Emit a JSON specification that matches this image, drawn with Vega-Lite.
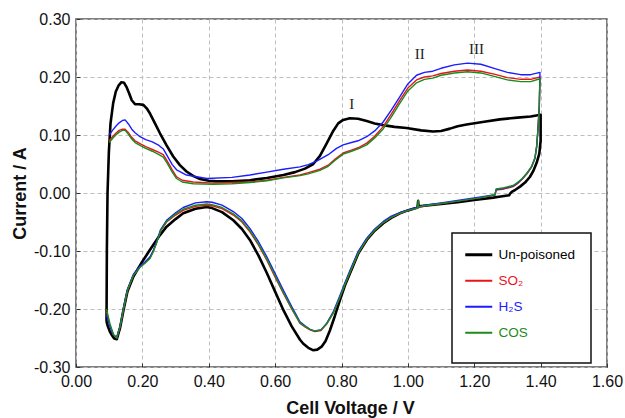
{
"$schema": "https://vega.github.io/schema/vega-lite/v6.json",
"autosize": "none",
"width": 531,
"height": 348,
"padding": {"left": 76, "top": 19, "right": 18, "bottom": 51},
"background": "white",
"datasets": {
"cv": [
{"s":"Un-poisoned","k":0,"v":0.092,"c":-0.222},{"s":"Un-poisoned","k":1,"v":0.093,"c":-0.1},{"s":"Un-poisoned","k":2,"v":0.095,"c":0.0},{"s":"Un-poisoned","k":3,"v":0.099,"c":0.07},{"s":"Un-poisoned","k":4,"v":0.104,"c":0.12},{"s":"Un-poisoned","k":5,"v":0.112,"c":0.155},{"s":"Un-poisoned","k":6,"v":0.12,"c":0.175},{"s":"Un-poisoned","k":7,"v":0.128,"c":0.185},{"s":"Un-poisoned","k":8,"v":0.137,"c":0.191},{"s":"Un-poisoned","k":9,"v":0.145,"c":0.19},
{"s":"Un-poisoned","k":10,"v":0.152,"c":0.183},{"s":"Un-poisoned","k":11,"v":0.16,"c":0.172},{"s":"Un-poisoned","k":12,"v":0.168,"c":0.16},{"s":"Un-poisoned","k":13,"v":0.178,"c":0.153},{"s":"Un-poisoned","k":14,"v":0.19,"c":0.153},{"s":"Un-poisoned","k":15,"v":0.203,"c":0.152},{"s":"Un-poisoned","k":16,"v":0.213,"c":0.146},{"s":"Un-poisoned","k":17,"v":0.223,"c":0.137},{"s":"Un-poisoned","k":18,"v":0.238,"c":0.12},{"s":"Un-poisoned","k":19,"v":0.253,"c":0.103},
{"s":"Un-poisoned","k":20,"v":0.273,"c":0.082},{"s":"Un-poisoned","k":21,"v":0.293,"c":0.063},{"s":"Un-poisoned","k":22,"v":0.313,"c":0.048},{"s":"Un-poisoned","k":23,"v":0.333,"c":0.037},{"s":"Un-poisoned","k":24,"v":0.354,"c":0.029},{"s":"Un-poisoned","k":25,"v":0.374,"c":0.024},{"s":"Un-poisoned","k":26,"v":0.4,"c":0.021},{"s":"Un-poisoned","k":27,"v":0.424,"c":0.02},{"s":"Un-poisoned","k":28,"v":0.47,"c":0.02},{"s":"Un-poisoned","k":29,"v":0.524,"c":0.022},
{"s":"Un-poisoned","k":30,"v":0.575,"c":0.026},{"s":"Un-poisoned","k":31,"v":0.625,"c":0.031},{"s":"Un-poisoned","k":32,"v":0.66,"c":0.036},{"s":"Un-poisoned","k":33,"v":0.69,"c":0.042},{"s":"Un-poisoned","k":34,"v":0.715,"c":0.05},{"s":"Un-poisoned","k":35,"v":0.735,"c":0.064},{"s":"Un-poisoned","k":36,"v":0.755,"c":0.085},{"s":"Un-poisoned","k":37,"v":0.775,"c":0.107},{"s":"Un-poisoned","k":38,"v":0.79,"c":0.12},{"s":"Un-poisoned","k":39,"v":0.805,"c":0.126},
{"s":"Un-poisoned","k":40,"v":0.825,"c":0.129},{"s":"Un-poisoned","k":41,"v":0.85,"c":0.128},{"s":"Un-poisoned","k":42,"v":0.876,"c":0.124},{"s":"Un-poisoned","k":43,"v":0.9,"c":0.12},{"s":"Un-poisoned","k":44,"v":0.925,"c":0.117},{"s":"Un-poisoned","k":45,"v":0.96,"c":0.114},{"s":"Un-poisoned","k":46,"v":0.996,"c":0.112},{"s":"Un-poisoned","k":47,"v":1.04,"c":0.108},{"s":"Un-poisoned","k":48,"v":1.076,"c":0.106},{"s":"Un-poisoned","k":49,"v":1.1,"c":0.107},
{"s":"Un-poisoned","k":50,"v":1.127,"c":0.111},{"s":"Un-poisoned","k":51,"v":1.15,"c":0.115},{"s":"Un-poisoned","k":52,"v":1.177,"c":0.118},{"s":"Un-poisoned","k":53,"v":1.23,"c":0.123},{"s":"Un-poisoned","k":54,"v":1.277,"c":0.127},{"s":"Un-poisoned","k":55,"v":1.33,"c":0.13},{"s":"Un-poisoned","k":56,"v":1.37,"c":0.132},{"s":"Un-poisoned","k":57,"v":1.4,"c":0.135},{"s":"Un-poisoned","k":58,"v":1.4,"c":0.09},{"s":"Un-poisoned","k":59,"v":1.396,"c":0.068},
{"s":"Un-poisoned","k":60,"v":1.388,"c":0.052},{"s":"Un-poisoned","k":61,"v":1.378,"c":0.038},{"s":"Un-poisoned","k":62,"v":1.368,"c":0.028},{"s":"Un-poisoned","k":63,"v":1.353,"c":0.018},{"s":"Un-poisoned","k":64,"v":1.338,"c":0.011},{"s":"Un-poisoned","k":65,"v":1.325,"c":0.006},{"s":"Un-poisoned","k":66,"v":1.313,"c":0.002},{"s":"Un-poisoned","k":67,"v":1.308,"c":-0.001},{"s":"Un-poisoned","k":68,"v":1.305,"c":-0.004},{"s":"Un-poisoned","k":69,"v":1.28,"c":-0.006},
{"s":"Un-poisoned","k":70,"v":1.257,"c":-0.008},{"s":"Un-poisoned","k":71,"v":1.2,"c":-0.012},{"s":"Un-poisoned","k":72,"v":1.15,"c":-0.016},{"s":"Un-poisoned","k":73,"v":1.1,"c":-0.019},{"s":"Un-poisoned","k":74,"v":1.05,"c":-0.022},{"s":"Un-poisoned","k":75,"v":1.032,"c":-0.023},{"s":"Un-poisoned","k":76,"v":1.031,"c":-0.014},{"s":"Un-poisoned","k":77,"v":1.029,"c":-0.025},{"s":"Un-poisoned","k":78,"v":1.0,"c":-0.03},{"s":"Un-poisoned","k":79,"v":0.976,"c":-0.035},
{"s":"Un-poisoned","k":80,"v":0.95,"c":-0.043},{"s":"Un-poisoned","k":81,"v":0.926,"c":-0.052},{"s":"Un-poisoned","k":82,"v":0.9,"c":-0.065},{"s":"Un-poisoned","k":83,"v":0.876,"c":-0.081},{"s":"Un-poisoned","k":84,"v":0.85,"c":-0.105},{"s":"Un-poisoned","k":85,"v":0.826,"c":-0.138},{"s":"Un-poisoned","k":86,"v":0.81,"c":-0.16},{"s":"Un-poisoned","k":87,"v":0.795,"c":-0.185},{"s":"Un-poisoned","k":88,"v":0.78,"c":-0.212},{"s":"Un-poisoned","k":89,"v":0.765,"c":-0.237},
{"s":"Un-poisoned","k":90,"v":0.752,"c":-0.255},{"s":"Un-poisoned","k":91,"v":0.74,"c":-0.265},{"s":"Un-poisoned","k":92,"v":0.727,"c":-0.27},{"s":"Un-poisoned","k":93,"v":0.714,"c":-0.271},{"s":"Un-poisoned","k":94,"v":0.7,"c":-0.267},{"s":"Un-poisoned","k":95,"v":0.685,"c":-0.26},{"s":"Un-poisoned","k":96,"v":0.675,"c":-0.253},{"s":"Un-poisoned","k":97,"v":0.65,"c":-0.23},{"s":"Un-poisoned","k":98,"v":0.625,"c":-0.202},{"s":"Un-poisoned","k":99,"v":0.6,"c":-0.17},
{"s":"Un-poisoned","k":100,"v":0.575,"c":-0.138},{"s":"Un-poisoned","k":101,"v":0.55,"c":-0.108},{"s":"Un-poisoned","k":102,"v":0.524,"c":-0.081},{"s":"Un-poisoned","k":103,"v":0.5,"c":-0.062},{"s":"Un-poisoned","k":104,"v":0.474,"c":-0.047},{"s":"Un-poisoned","k":105,"v":0.44,"c":-0.033},{"s":"Un-poisoned","k":106,"v":0.41,"c":-0.026},{"s":"Un-poisoned","k":107,"v":0.394,"c":-0.024},{"s":"Un-poisoned","k":108,"v":0.36,"c":-0.027},{"s":"Un-poisoned","k":109,"v":0.323,"c":-0.035},
{"s":"Un-poisoned","k":110,"v":0.3,"c":-0.045},{"s":"Un-poisoned","k":111,"v":0.273,"c":-0.058},{"s":"Un-poisoned","k":112,"v":0.25,"c":-0.075},{"s":"Un-poisoned","k":113,"v":0.223,"c":-0.098},{"s":"Un-poisoned","k":114,"v":0.2,"c":-0.118},{"s":"Un-poisoned","k":115,"v":0.173,"c":-0.144},{"s":"Un-poisoned","k":116,"v":0.155,"c":-0.17},{"s":"Un-poisoned","k":117,"v":0.143,"c":-0.202},{"s":"Un-poisoned","k":118,"v":0.133,"c":-0.232},{"s":"Un-poisoned","k":119,"v":0.123,"c":-0.252},
{"s":"Un-poisoned","k":120,"v":0.115,"c":-0.251},{"s":"Un-poisoned","k":121,"v":0.108,"c":-0.245},{"s":"Un-poisoned","k":122,"v":0.102,"c":-0.239},{"s":"Un-poisoned","k":123,"v":0.096,"c":-0.23},{"s":"Un-poisoned","k":124,"v":0.092,"c":-0.222},

{"s":"SO₂","k":0,"v":0.1,"c":0.09},{"s":"SO₂","k":1,"v":0.11,"c":0.097},{"s":"SO₂","k":2,"v":0.12,"c":0.103},{"s":"SO₂","k":3,"v":0.13,"c":0.108},{"s":"SO₂","k":4,"v":0.14,"c":0.11},{"s":"SO₂","k":5,"v":0.148,"c":0.11},{"s":"SO₂","k":6,"v":0.158,"c":0.104},{"s":"SO₂","k":7,"v":0.168,"c":0.096},{"s":"SO₂","k":8,"v":0.178,"c":0.09},{"s":"SO₂","k":9,"v":0.193,"c":0.085},
{"s":"SO₂","k":10,"v":0.21,"c":0.08},{"s":"SO₂","k":11,"v":0.23,"c":0.075},{"s":"SO₂","k":12,"v":0.25,"c":0.07},{"s":"SO₂","k":13,"v":0.263,"c":0.066},{"s":"SO₂","k":14,"v":0.275,"c":0.055},{"s":"SO₂","k":15,"v":0.29,"c":0.04},{"s":"SO₂","k":16,"v":0.303,"c":0.028},{"s":"SO₂","k":17,"v":0.32,"c":0.022},{"s":"SO₂","k":18,"v":0.353,"c":0.019},{"s":"SO₂","k":19,"v":0.414,"c":0.017},
{"s":"SO₂","k":20,"v":0.47,"c":0.018},{"s":"SO₂","k":21,"v":0.524,"c":0.019},{"s":"SO₂","k":22,"v":0.575,"c":0.022},{"s":"SO₂","k":23,"v":0.625,"c":0.027},{"s":"SO₂","k":24,"v":0.675,"c":0.031},{"s":"SO₂","k":25,"v":0.7,"c":0.035},{"s":"SO₂","k":26,"v":0.735,"c":0.041},{"s":"SO₂","k":27,"v":0.76,"c":0.048},{"s":"SO₂","k":28,"v":0.78,"c":0.058},{"s":"SO₂","k":29,"v":0.805,"c":0.069},
{"s":"SO₂","k":30,"v":0.83,"c":0.074},{"s":"SO₂","k":31,"v":0.85,"c":0.078},{"s":"SO₂","k":32,"v":0.876,"c":0.086},{"s":"SO₂","k":33,"v":0.9,"c":0.098},{"s":"SO₂","k":34,"v":0.925,"c":0.114},{"s":"SO₂","k":35,"v":0.95,"c":0.136},{"s":"SO₂","k":36,"v":0.976,"c":0.16},{"s":"SO₂","k":37,"v":1.0,"c":0.181},{"s":"SO₂","k":38,"v":1.026,"c":0.195},{"s":"SO₂","k":39,"v":1.05,"c":0.2},
{"s":"SO₂","k":40,"v":1.075,"c":0.202},{"s":"SO₂","k":41,"v":1.1,"c":0.206},{"s":"SO₂","k":42,"v":1.14,"c":0.21},{"s":"SO₂","k":43,"v":1.18,"c":0.212},{"s":"SO₂","k":44,"v":1.22,"c":0.21},{"s":"SO₂","k":45,"v":1.26,"c":0.205},{"s":"SO₂","k":46,"v":1.3,"c":0.199},{"s":"SO₂","k":47,"v":1.34,"c":0.196},{"s":"SO₂","k":48,"v":1.37,"c":0.196},{"s":"SO₂","k":49,"v":1.398,"c":0.2},
{"s":"SO₂","k":50,"v":1.396,"c":0.15},{"s":"SO₂","k":51,"v":1.392,"c":0.11},{"s":"SO₂","k":52,"v":1.388,"c":0.08},{"s":"SO₂","k":53,"v":1.383,"c":0.06},{"s":"SO₂","k":54,"v":1.373,"c":0.045},{"s":"SO₂","k":55,"v":1.36,"c":0.034},{"s":"SO₂","k":56,"v":1.345,"c":0.024},{"s":"SO₂","k":57,"v":1.33,"c":0.016},{"s":"SO₂","k":58,"v":1.317,"c":0.011},{"s":"SO₂","k":59,"v":1.29,"c":0.007},
{"s":"SO₂","k":60,"v":1.266,"c":0.005},{"s":"SO₂","k":61,"v":1.262,"c":-0.004},{"s":"SO₂","k":62,"v":1.22,"c":-0.008},{"s":"SO₂","k":63,"v":1.15,"c":-0.014},{"s":"SO₂","k":64,"v":1.1,"c":-0.018},{"s":"SO₂","k":65,"v":1.05,"c":-0.022},{"s":"SO₂","k":66,"v":1.026,"c":-0.026},{"s":"SO₂","k":67,"v":1.0,"c":-0.03},{"s":"SO₂","k":68,"v":0.976,"c":-0.035},{"s":"SO₂","k":69,"v":0.95,"c":-0.042},
{"s":"SO₂","k":70,"v":0.926,"c":-0.051},{"s":"SO₂","k":71,"v":0.9,"c":-0.064},{"s":"SO₂","k":72,"v":0.876,"c":-0.08},{"s":"SO₂","k":73,"v":0.85,"c":-0.104},{"s":"SO₂","k":74,"v":0.826,"c":-0.136},{"s":"SO₂","k":75,"v":0.81,"c":-0.158},{"s":"SO₂","k":76,"v":0.795,"c":-0.18},{"s":"SO₂","k":77,"v":0.775,"c":-0.207},{"s":"SO₂","k":78,"v":0.755,"c":-0.226},{"s":"SO₂","k":79,"v":0.738,"c":-0.237},
{"s":"SO₂","k":80,"v":0.72,"c":-0.239},{"s":"SO₂","k":81,"v":0.705,"c":-0.236},{"s":"SO₂","k":82,"v":0.69,"c":-0.231},{"s":"SO₂","k":83,"v":0.675,"c":-0.225},{"s":"SO₂","k":84,"v":0.65,"c":-0.2},{"s":"SO₂","k":85,"v":0.625,"c":-0.173},{"s":"SO₂","k":86,"v":0.6,"c":-0.145},{"s":"SO₂","k":87,"v":0.575,"c":-0.116},{"s":"SO₂","k":88,"v":0.55,"c":-0.09},{"s":"SO₂","k":89,"v":0.524,"c":-0.067},
{"s":"SO₂","k":90,"v":0.5,"c":-0.05},{"s":"SO₂","k":91,"v":0.474,"c":-0.038},{"s":"SO₂","k":92,"v":0.44,"c":-0.027},{"s":"SO₂","k":93,"v":0.41,"c":-0.022},{"s":"SO₂","k":94,"v":0.394,"c":-0.021},{"s":"SO₂","k":95,"v":0.36,"c":-0.023},{"s":"SO₂","k":96,"v":0.323,"c":-0.03},{"s":"SO₂","k":97,"v":0.3,"c":-0.038},{"s":"SO₂","k":98,"v":0.273,"c":-0.05},{"s":"SO₂","k":99,"v":0.255,"c":-0.065},
{"s":"SO₂","k":100,"v":0.243,"c":-0.085},{"s":"SO₂","k":101,"v":0.233,"c":-0.1},{"s":"SO₂","k":102,"v":0.223,"c":-0.112},{"s":"SO₂","k":103,"v":0.208,"c":-0.12},{"s":"SO₂","k":104,"v":0.193,"c":-0.127},{"s":"SO₂","k":105,"v":0.173,"c":-0.142},{"s":"SO₂","k":106,"v":0.155,"c":-0.168},{"s":"SO₂","k":107,"v":0.143,"c":-0.2},{"s":"SO₂","k":108,"v":0.133,"c":-0.23},{"s":"SO₂","k":109,"v":0.123,"c":-0.25},
{"s":"SO₂","k":110,"v":0.113,"c":-0.245},{"s":"SO₂","k":111,"v":0.102,"c":-0.228},{"s":"SO₂","k":112,"v":0.092,"c":-0.205},

{"s":"H₂S","k":0,"v":0.1,"c":0.1},{"s":"H₂S","k":1,"v":0.11,"c":0.108},{"s":"H₂S","k":2,"v":0.12,"c":0.115},{"s":"H₂S","k":3,"v":0.13,"c":0.121},{"s":"H₂S","k":4,"v":0.14,"c":0.125},{"s":"H₂S","k":5,"v":0.148,"c":0.126},{"s":"H₂S","k":6,"v":0.158,"c":0.119},{"s":"H₂S","k":7,"v":0.168,"c":0.11},{"s":"H₂S","k":8,"v":0.178,"c":0.104},{"s":"H₂S","k":9,"v":0.193,"c":0.097},
{"s":"H₂S","k":10,"v":0.21,"c":0.092},{"s":"H₂S","k":11,"v":0.23,"c":0.088},{"s":"H₂S","k":12,"v":0.25,"c":0.082},{"s":"H₂S","k":13,"v":0.263,"c":0.076},{"s":"H₂S","k":14,"v":0.275,"c":0.064},{"s":"H₂S","k":15,"v":0.29,"c":0.049},{"s":"H₂S","k":16,"v":0.303,"c":0.04},{"s":"H₂S","k":17,"v":0.333,"c":0.031},{"s":"H₂S","k":18,"v":0.394,"c":0.025},{"s":"H₂S","k":19,"v":0.47,"c":0.027},
{"s":"H₂S","k":20,"v":0.524,"c":0.031},{"s":"H₂S","k":21,"v":0.575,"c":0.036},{"s":"H₂S","k":22,"v":0.625,"c":0.041},{"s":"H₂S","k":23,"v":0.675,"c":0.045},{"s":"H₂S","k":24,"v":0.7,"c":0.049},{"s":"H₂S","k":25,"v":0.725,"c":0.055},{"s":"H₂S","k":26,"v":0.76,"c":0.066},{"s":"H₂S","k":27,"v":0.785,"c":0.077},{"s":"H₂S","k":28,"v":0.805,"c":0.083},{"s":"H₂S","k":29,"v":0.83,"c":0.087},
{"s":"H₂S","k":30,"v":0.85,"c":0.09},{"s":"H₂S","k":31,"v":0.876,"c":0.097},{"s":"H₂S","k":32,"v":0.9,"c":0.107},{"s":"H₂S","k":33,"v":0.925,"c":0.122},{"s":"H₂S","k":34,"v":0.95,"c":0.143},{"s":"H₂S","k":35,"v":0.976,"c":0.166},{"s":"H₂S","k":36,"v":1.0,"c":0.188},{"s":"H₂S","k":37,"v":1.026,"c":0.203},{"s":"H₂S","k":38,"v":1.05,"c":0.208},{"s":"H₂S","k":39,"v":1.075,"c":0.21},
{"s":"H₂S","k":40,"v":1.1,"c":0.215},{"s":"H₂S","k":41,"v":1.14,"c":0.221},{"s":"H₂S","k":42,"v":1.18,"c":0.224},{"s":"H₂S","k":43,"v":1.22,"c":0.222},{"s":"H₂S","k":44,"v":1.26,"c":0.215},{"s":"H₂S","k":45,"v":1.3,"c":0.208},{"s":"H₂S","k":46,"v":1.34,"c":0.204},{"s":"H₂S","k":47,"v":1.37,"c":0.204},{"s":"H₂S","k":48,"v":1.398,"c":0.208},{"s":"H₂S","k":49,"v":1.396,"c":0.15},
{"s":"H₂S","k":50,"v":1.392,"c":0.11},{"s":"H₂S","k":51,"v":1.388,"c":0.08},{"s":"H₂S","k":52,"v":1.383,"c":0.06},{"s":"H₂S","k":53,"v":1.373,"c":0.046},{"s":"H₂S","k":54,"v":1.36,"c":0.035},{"s":"H₂S","k":55,"v":1.345,"c":0.025},{"s":"H₂S","k":56,"v":1.33,"c":0.017},{"s":"H₂S","k":57,"v":1.317,"c":0.012},{"s":"H₂S","k":58,"v":1.29,"c":0.008},{"s":"H₂S","k":59,"v":1.266,"c":0.006},
{"s":"H₂S","k":60,"v":1.262,"c":-0.003},{"s":"H₂S","k":61,"v":1.22,"c":-0.007},{"s":"H₂S","k":62,"v":1.15,"c":-0.013},{"s":"H₂S","k":63,"v":1.1,"c":-0.017},{"s":"H₂S","k":64,"v":1.05,"c":-0.021},{"s":"H₂S","k":65,"v":1.026,"c":-0.025},{"s":"H₂S","k":66,"v":1.0,"c":-0.029},{"s":"H₂S","k":67,"v":0.976,"c":-0.034},{"s":"H₂S","k":68,"v":0.95,"c":-0.04},{"s":"H₂S","k":69,"v":0.926,"c":-0.049},
{"s":"H₂S","k":70,"v":0.9,"c":-0.062},{"s":"H₂S","k":71,"v":0.876,"c":-0.078},{"s":"H₂S","k":72,"v":0.85,"c":-0.101},{"s":"H₂S","k":73,"v":0.826,"c":-0.133},{"s":"H₂S","k":74,"v":0.81,"c":-0.155},{"s":"H₂S","k":75,"v":0.795,"c":-0.177},{"s":"H₂S","k":76,"v":0.775,"c":-0.205},{"s":"H₂S","k":77,"v":0.755,"c":-0.225},{"s":"H₂S","k":78,"v":0.738,"c":-0.236},{"s":"H₂S","k":79,"v":0.72,"c":-0.238},
{"s":"H₂S","k":80,"v":0.705,"c":-0.235},{"s":"H₂S","k":81,"v":0.69,"c":-0.229},{"s":"H₂S","k":82,"v":0.675,"c":-0.222},{"s":"H₂S","k":83,"v":0.65,"c":-0.196},{"s":"H₂S","k":84,"v":0.625,"c":-0.168},{"s":"H₂S","k":85,"v":0.6,"c":-0.139},{"s":"H₂S","k":86,"v":0.575,"c":-0.11},{"s":"H₂S","k":87,"v":0.55,"c":-0.084},{"s":"H₂S","k":88,"v":0.524,"c":-0.061},{"s":"H₂S","k":89,"v":0.5,"c":-0.044},
{"s":"H₂S","k":90,"v":0.474,"c":-0.032},{"s":"H₂S","k":91,"v":0.44,"c":-0.021},{"s":"H₂S","k":92,"v":0.41,"c":-0.016},{"s":"H₂S","k":93,"v":0.394,"c":-0.015},{"s":"H₂S","k":94,"v":0.36,"c":-0.017},{"s":"H₂S","k":95,"v":0.323,"c":-0.025},{"s":"H₂S","k":96,"v":0.3,"c":-0.034},{"s":"H₂S","k":97,"v":0.273,"c":-0.047},{"s":"H₂S","k":98,"v":0.255,"c":-0.063},{"s":"H₂S","k":99,"v":0.243,"c":-0.083},
{"s":"H₂S","k":100,"v":0.233,"c":-0.099},{"s":"H₂S","k":101,"v":0.223,"c":-0.11},{"s":"H₂S","k":102,"v":0.208,"c":-0.119},{"s":"H₂S","k":103,"v":0.193,"c":-0.126},{"s":"H₂S","k":104,"v":0.173,"c":-0.14},{"s":"H₂S","k":105,"v":0.155,"c":-0.166},{"s":"H₂S","k":106,"v":0.143,"c":-0.198},{"s":"H₂S","k":107,"v":0.133,"c":-0.229},{"s":"H₂S","k":108,"v":0.123,"c":-0.249},{"s":"H₂S","k":109,"v":0.113,"c":-0.245},
{"s":"H₂S","k":110,"v":0.102,"c":-0.23},{"s":"H₂S","k":111,"v":0.092,"c":-0.21},

{"s":"COS","k":0,"v":0.1,"c":0.087},{"s":"COS","k":1,"v":0.11,"c":0.094},{"s":"COS","k":2,"v":0.12,"c":0.1},{"s":"COS","k":3,"v":0.13,"c":0.105},{"s":"COS","k":4,"v":0.14,"c":0.108},{"s":"COS","k":5,"v":0.148,"c":0.108},{"s":"COS","k":6,"v":0.158,"c":0.101},{"s":"COS","k":7,"v":0.168,"c":0.093},{"s":"COS","k":8,"v":0.178,"c":0.087},{"s":"COS","k":9,"v":0.193,"c":0.082},
{"s":"COS","k":10,"v":0.21,"c":0.077},{"s":"COS","k":11,"v":0.23,"c":0.072},{"s":"COS","k":12,"v":0.25,"c":0.066},{"s":"COS","k":13,"v":0.263,"c":0.062},{"s":"COS","k":14,"v":0.275,"c":0.051},{"s":"COS","k":15,"v":0.29,"c":0.036},{"s":"COS","k":16,"v":0.303,"c":0.025},{"s":"COS","k":17,"v":0.32,"c":0.019},{"s":"COS","k":18,"v":0.353,"c":0.016},{"s":"COS","k":19,"v":0.414,"c":0.015},
{"s":"COS","k":20,"v":0.47,"c":0.016},{"s":"COS","k":21,"v":0.524,"c":0.018},{"s":"COS","k":22,"v":0.575,"c":0.021},{"s":"COS","k":23,"v":0.625,"c":0.026},{"s":"COS","k":24,"v":0.675,"c":0.03},{"s":"COS","k":25,"v":0.7,"c":0.033},{"s":"COS","k":26,"v":0.735,"c":0.039},{"s":"COS","k":27,"v":0.76,"c":0.046},{"s":"COS","k":28,"v":0.78,"c":0.056},{"s":"COS","k":29,"v":0.805,"c":0.067},
{"s":"COS","k":30,"v":0.83,"c":0.072},{"s":"COS","k":31,"v":0.85,"c":0.076},{"s":"COS","k":32,"v":0.876,"c":0.083},{"s":"COS","k":33,"v":0.9,"c":0.095},{"s":"COS","k":34,"v":0.925,"c":0.11},{"s":"COS","k":35,"v":0.95,"c":0.131},{"s":"COS","k":36,"v":0.976,"c":0.155},{"s":"COS","k":37,"v":1.0,"c":0.176},{"s":"COS","k":38,"v":1.026,"c":0.19},{"s":"COS","k":39,"v":1.05,"c":0.196},
{"s":"COS","k":40,"v":1.075,"c":0.198},{"s":"COS","k":41,"v":1.1,"c":0.203},{"s":"COS","k":42,"v":1.14,"c":0.207},{"s":"COS","k":43,"v":1.18,"c":0.209},{"s":"COS","k":44,"v":1.22,"c":0.207},{"s":"COS","k":45,"v":1.26,"c":0.201},{"s":"COS","k":46,"v":1.3,"c":0.195},{"s":"COS","k":47,"v":1.34,"c":0.192},{"s":"COS","k":48,"v":1.37,"c":0.192},{"s":"COS","k":49,"v":1.398,"c":0.197},
{"s":"COS","k":50,"v":1.396,"c":0.15},{"s":"COS","k":51,"v":1.392,"c":0.11},{"s":"COS","k":52,"v":1.388,"c":0.08},{"s":"COS","k":53,"v":1.383,"c":0.061},{"s":"COS","k":54,"v":1.373,"c":0.046},{"s":"COS","k":55,"v":1.36,"c":0.035},{"s":"COS","k":56,"v":1.345,"c":0.025},{"s":"COS","k":57,"v":1.33,"c":0.018},{"s":"COS","k":58,"v":1.317,"c":0.013},{"s":"COS","k":59,"v":1.29,"c":0.009},
{"s":"COS","k":60,"v":1.266,"c":0.007},{"s":"COS","k":61,"v":1.263,"c":-0.003},{"s":"COS","k":62,"v":1.22,"c":-0.008},{"s":"COS","k":63,"v":1.15,"c":-0.014},{"s":"COS","k":64,"v":1.1,"c":-0.018},{"s":"COS","k":65,"v":1.05,"c":-0.022},{"s":"COS","k":66,"v":1.032,"c":-0.024},{"s":"COS","k":67,"v":1.031,"c":-0.012},{"s":"COS","k":68,"v":1.029,"c":-0.026},{"s":"COS","k":69,"v":1.0,"c":-0.03},
{"s":"COS","k":70,"v":0.976,"c":-0.035},{"s":"COS","k":71,"v":0.95,"c":-0.042},{"s":"COS","k":72,"v":0.926,"c":-0.051},{"s":"COS","k":73,"v":0.9,"c":-0.064},{"s":"COS","k":74,"v":0.876,"c":-0.08},{"s":"COS","k":75,"v":0.85,"c":-0.104},{"s":"COS","k":76,"v":0.826,"c":-0.136},{"s":"COS","k":77,"v":0.81,"c":-0.158},{"s":"COS","k":78,"v":0.795,"c":-0.18},{"s":"COS","k":79,"v":0.775,"c":-0.207},
{"s":"COS","k":80,"v":0.755,"c":-0.226},{"s":"COS","k":81,"v":0.738,"c":-0.236},{"s":"COS","k":82,"v":0.72,"c":-0.238},{"s":"COS","k":83,"v":0.705,"c":-0.235},{"s":"COS","k":84,"v":0.69,"c":-0.23},{"s":"COS","k":85,"v":0.675,"c":-0.224},{"s":"COS","k":86,"v":0.65,"c":-0.199},{"s":"COS","k":87,"v":0.625,"c":-0.172},{"s":"COS","k":88,"v":0.6,"c":-0.143},{"s":"COS","k":89,"v":0.575,"c":-0.114},
{"s":"COS","k":90,"v":0.55,"c":-0.088},{"s":"COS","k":91,"v":0.524,"c":-0.065},{"s":"COS","k":92,"v":0.5,"c":-0.048},{"s":"COS","k":93,"v":0.474,"c":-0.036},{"s":"COS","k":94,"v":0.44,"c":-0.025},{"s":"COS","k":95,"v":0.41,"c":-0.02},{"s":"COS","k":96,"v":0.394,"c":-0.019},{"s":"COS","k":97,"v":0.36,"c":-0.021},{"s":"COS","k":98,"v":0.323,"c":-0.028},{"s":"COS","k":99,"v":0.3,"c":-0.036},
{"s":"COS","k":100,"v":0.273,"c":-0.049},{"s":"COS","k":101,"v":0.255,"c":-0.065},{"s":"COS","k":102,"v":0.243,"c":-0.086},{"s":"COS","k":103,"v":0.233,"c":-0.101},{"s":"COS","k":104,"v":0.223,"c":-0.113},{"s":"COS","k":105,"v":0.208,"c":-0.121},{"s":"COS","k":106,"v":0.193,"c":-0.128},{"s":"COS","k":107,"v":0.173,"c":-0.142},{"s":"COS","k":108,"v":0.155,"c":-0.168},{"s":"COS","k":109,"v":0.143,"c":-0.2},
{"s":"COS","k":110,"v":0.133,"c":-0.23},{"s":"COS","k":111,"v":0.123,"c":-0.25},{"s":"COS","k":112,"v":0.113,"c":-0.244},{"s":"COS","k":113,"v":0.102,"c":-0.225},{"s":"COS","k":114,"v":0.092,"c":-0.2}
],
"peaks": [
{"t":"I","v":0.831,"c":0.153},{"t":"II","v":1.036,"c":0.24},{"t":"III","v":1.207,"c":0.249}
]
},
"layer": [
{
"data": {"name": "cv"},
"transform": [{"filter": "datum.s === 'Un-poisoned'"}],
"mark": {"type": "line", "strokeWidth": 2.6, "strokeJoin": "round", "clip": true},
"encoding": {
"x": {"field": "v", "type": "quantitative", "scale": {"domain": [0, 1.6], "nice": false}, "title": "Cell Voltage / V",
"axis": {"values": [0,0.2,0.4,0.6,0.8,1.0,1.2,1.4,1.6], "format": ".2f", "titlePadding": 10, "titleX": 274}},
"y": {"field": "c", "type": "quantitative", "scale": {"domain": [-0.3, 0.3], "nice": false}, "title": "Current / A",
"axis": {"values": [-0.3,-0.2,-0.1,0,0.1,0.2,0.3], "labelExpr": "(datum.value < -0.001 ? '-' : '') + format(abs(datum.value), '.2f')", "titlePadding": 4}},
"order": {"field": "k", "type": "quantitative"},
"color": {"field": "s", "type": "nominal",
"scale": {"domain": ["Un-poisoned", "SO₂", "H₂S", "COS"], "range": ["#000000", "#e8141c", "#1c1cff", "#1a8c1a"]},
"legend": {"title": " ", "titleOrient": "bottom", "titleFontSize": 7, "titlePadding": 2,
"orient": "none", "legendX": 376, "legendY": 214, "direction": "vertical",
"strokeColor": "#111", "fillColor": "white", "padding": 15, "rowPadding": 11,
"symbolType": "stroke", "symbolSize": 729, "symbolStrokeWidth": 2, "symbolOffset": 5, "labelOffset": 13,
"labelFont": "Liberation Sans", "labelFontSize": 13.5, "labelLimit": 200,
"encode": {"legend": {"update": {"strokeWidth": {"value": 1.5}}},
"labels": {"update": {"fill": {"scale": "color", "field": "value"}}},
"symbols": {"update": {"strokeWidth": {"signal": "datum.value === 'Un-poisoned' ? 3 : 2"}}}}}}
}
},
{
"data": {"name": "cv"},
"transform": [{"filter": "datum.s !== 'Un-poisoned'"}],
"mark": {"type": "line", "strokeWidth": 1.4, "strokeJoin": "round", "clip": true},
"encoding": {
"x": {"field": "v", "type": "quantitative"},
"y": {"field": "c", "type": "quantitative"},
"order": {"field": "k", "type": "quantitative"},
"color": {"field": "s", "type": "nominal"}
}
},
{
"data": {"name": "peaks"},
"mark": {"type": "text", "font": "Liberation Serif", "fontSize": 15, "color": "#222"},
"encoding": {
"x": {"field": "v", "type": "quantitative"},
"y": {"field": "c", "type": "quantitative"},
"text": {"field": "t", "type": "nominal"}
}
}
],
"config": {
"view": {"stroke": "#555", "strokeWidth": 1.5},
"axis": {"domain": false, "grid": true, "gridColor": "#bdbdbd", "gridDash": [4, 3], "gridWidth": 1, "labelFlush": false,
"ticks": true, "tickSize": -4, "tickColor": "#333", "tickWidth": 1, "labelPadding": 10,
"labelFont": "Liberation Sans", "labelFontSize": 16, "labelColor": "#111",
"titleFont": "Liberation Sans", "titleFontSize": 18, "titleFontWeight": "bold", "titleColor": "#111"}
}
}
